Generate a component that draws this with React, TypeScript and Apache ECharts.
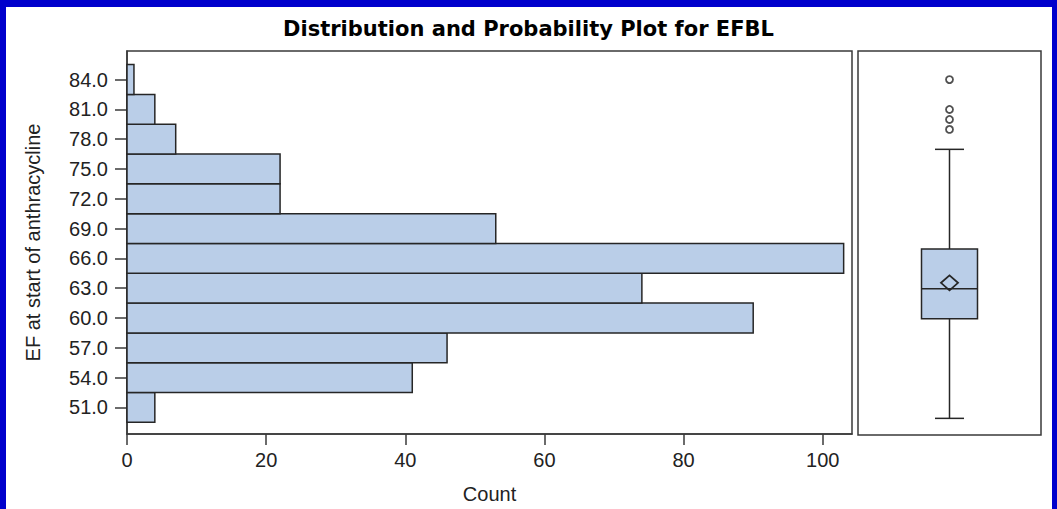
import React, { useEffect, useRef } from "react";
import * as echarts from "echarts";

// Histogram bins (bin midpoints) and their counts
const binCenters = [51, 54, 57, 60, 63, 66, 69, 72, 75, 78, 81, 84];
const counts = [4, 41, 46, 90, 74, 103, 53, 22, 22, 7, 4, 1];
const binWidth = 3;

// Axis ticks
const yTicks = [51, 54, 57, 60, 63, 66, 69, 72, 75, 78, 81, 84];
const xTicks = [0, 20, 40, 60, 80, 100];

// Box plot statistics: [min, q1, median, q3, max]
const boxStats = [50, 60, 63, 67, 77];
const meanValue = 63.6;
const outliers = [79, 80, 81, 84];

const Y_MIN = 48.33;
const Y_MAX = 86.87;
const X_MAX = 104.2;

const FILL = "#BACEE8";
const EDGE = "#262626";
const FRAME = "#3a3a3a";
const FONT = "Liberation Sans";

export default function App() {
  const ref = useRef<HTMLDivElement>(null);

  useEffect(() => {
    if (!ref.current) return;
    const chart = echarts.init(ref.current, undefined, { renderer: "svg" });

    const option: any = {
      animation: false,
      backgroundColor: "#ffffff",
      title: {
        text: "Distribution and Probability Plot for EFBL",
        left: "center",
        top: 13,
        textStyle: {
          fontFamily: "DejaVu Sans",
          fontWeight: "bold",
          fontSize: 21,
          color: "#000",
        },
      },
      graphic: [
        { type: "rect", left: 0, top: 0, shape: { width: 6, height: 509 }, style: { fill: "#0000CC" } },
        { type: "rect", left: 0, top: 0, shape: { width: 1057, height: 7 }, style: { fill: "#0000CC" } },
        { type: "rect", right: 0, top: 0, shape: { width: 5, height: 509 }, style: { fill: "#0000CC" } },
      ],
      grid: [
        {
          left: 127,
          right: 1057 - 852,
          top: 51,
          bottom: 509 - 435,
          show: true,
          borderColor: FRAME,
          borderWidth: 1.5,
          backgroundColor: "transparent",
        },
        {
          left: 858,
          right: 1057 - 1041,
          top: 51,
          bottom: 509 - 435,
          show: true,
          borderColor: FRAME,
          borderWidth: 1.5,
          backgroundColor: "transparent",
        },
      ],
      xAxis: [
        {
          type: "value",
          gridIndex: 0,
          min: 0,
          max: X_MAX,
          name: "Count",
          nameLocation: "middle",
          nameGap: 50,
          nameTextStyle: { fontFamily: FONT, fontSize: 20, color: "#222" },
          axisLine: { show: true, onZero: false, lineStyle: { color: FRAME, width: 1.5 } },
          axisTick: { show: true, length: 11, customValues: xTicks, lineStyle: { color: FRAME, width: 1.5 } },
          axisLabel: {
            customValues: xTicks,
            margin: 16,
            fontFamily: FONT,
            fontSize: 20,
            color: "#222",
          },
          splitLine: { show: false },
        },
        {
          type: "value",
          gridIndex: 1,
          min: 0,
          max: 1,
          show: false,
          splitLine: { show: false },
        },
      ],
      yAxis: [
        {
          type: "value",
          gridIndex: 0,
          min: Y_MIN,
          max: Y_MAX,
          name: "EF at start of anthracycline",
          nameLocation: "middle",
          nameGap: 84,
          nameRotate: 90,
          nameTextStyle: { fontFamily: FONT, fontSize: 20, color: "#222" },
          axisLine: { show: true, onZero: false, lineStyle: { color: FRAME, width: 1.5 } },
          axisTick: { show: true, length: 12, customValues: yTicks, lineStyle: { color: FRAME, width: 1.5 } },
          axisLabel: {
            customValues: yTicks,
            margin: 19,
            fontFamily: FONT,
            fontSize: 20,
            color: "#222",
            formatter: (v: number) => v.toFixed(1),
          },
          splitLine: { show: false },
        },
        {
          type: "value",
          gridIndex: 1,
          min: Y_MIN,
          max: Y_MAX,
          show: false,
          splitLine: { show: false },
        },
      ],
      series: [
        {
          type: "custom",
          xAxisIndex: 0,
          yAxisIndex: 0,
          encode: { x: 1, y: 0 },
          data: binCenters.map((c, i) => [c, counts[i]]),
          renderItem: (params: any, api: any) => {
            const c = api.value(0);
            const n = api.value(1);
            const p1 = api.coord([0, c + binWidth / 2]);
            const p2 = api.coord([n, c - binWidth / 2]);
            return {
              type: "rect",
              shape: { x: p1[0], y: p1[1], width: p2[0] - p1[0], height: p2[1] - p1[1] },
              style: { fill: FILL, stroke: EDGE, lineWidth: 1.5 },
            };
          },
        },
        {
          type: "custom",
          xAxisIndex: 1,
          yAxisIndex: 1,
          encode: { x: 0, y: [1, 2, 3, 4, 5, 6] },
          data: [[0.5, ...boxStats, meanValue]],
          renderItem: (params: any, api: any) => {
            const xc = api.value(0);
            const [mn, q1, md, q3, mx, mean] = [1, 2, 3, 4, 5, 6].map((k) => api.value(k));
            const cx = api.coord([xc, md])[0];
            const y = (v: number) => api.coord([xc, v])[1];
            const hw = 28;
            const cap = 14.5;
            const ls = { stroke: EDGE, lineWidth: 1.5 };
            const my = y(mean);
            return {
              type: "group",
              children: [
                { type: "line", shape: { x1: cx, y1: y(q3), x2: cx, y2: y(mx) }, style: ls },
                { type: "line", shape: { x1: cx, y1: y(q1), x2: cx, y2: y(mn) }, style: ls },
                { type: "line", shape: { x1: cx - cap, y1: y(mx), x2: cx + cap, y2: y(mx) }, style: ls },
                { type: "line", shape: { x1: cx - cap, y1: y(mn), x2: cx + cap, y2: y(mn) }, style: ls },
                {
                  type: "rect",
                  shape: { x: cx - hw, y: y(q3), width: hw * 2, height: y(q1) - y(q3) },
                  style: { fill: FILL, stroke: EDGE, lineWidth: 1.5 },
                },
                { type: "line", shape: { x1: cx - hw, y1: y(md), x2: cx + hw, y2: y(md) }, style: ls },
                {
                  type: "polygon",
                  shape: {
                    points: [
                      [cx, my - 7.5],
                      [cx + 8.5, my],
                      [cx, my + 7.5],
                      [cx - 8.5, my],
                    ],
                  },
                  style: { fill: "none", stroke: EDGE, lineWidth: 1.8 },
                },
              ],
            };
          },
        },
        {
          type: "scatter",
          xAxisIndex: 1,
          yAxisIndex: 1,
          symbol: "circle",
          symbolSize: 7,
          itemStyle: { color: "#fff", borderColor: EDGE, borderWidth: 1.8 },
          data: outliers.map((v) => [0.5, v]),
        },
      ],
    };

    chart.setOption(option);
    return () => chart.dispose();
  }, []);

  return (
    <div
      ref={ref}
      style={{ position: "fixed", left: 0, top: 0, width: 1057, height: 509 }}
    />
  );
}
